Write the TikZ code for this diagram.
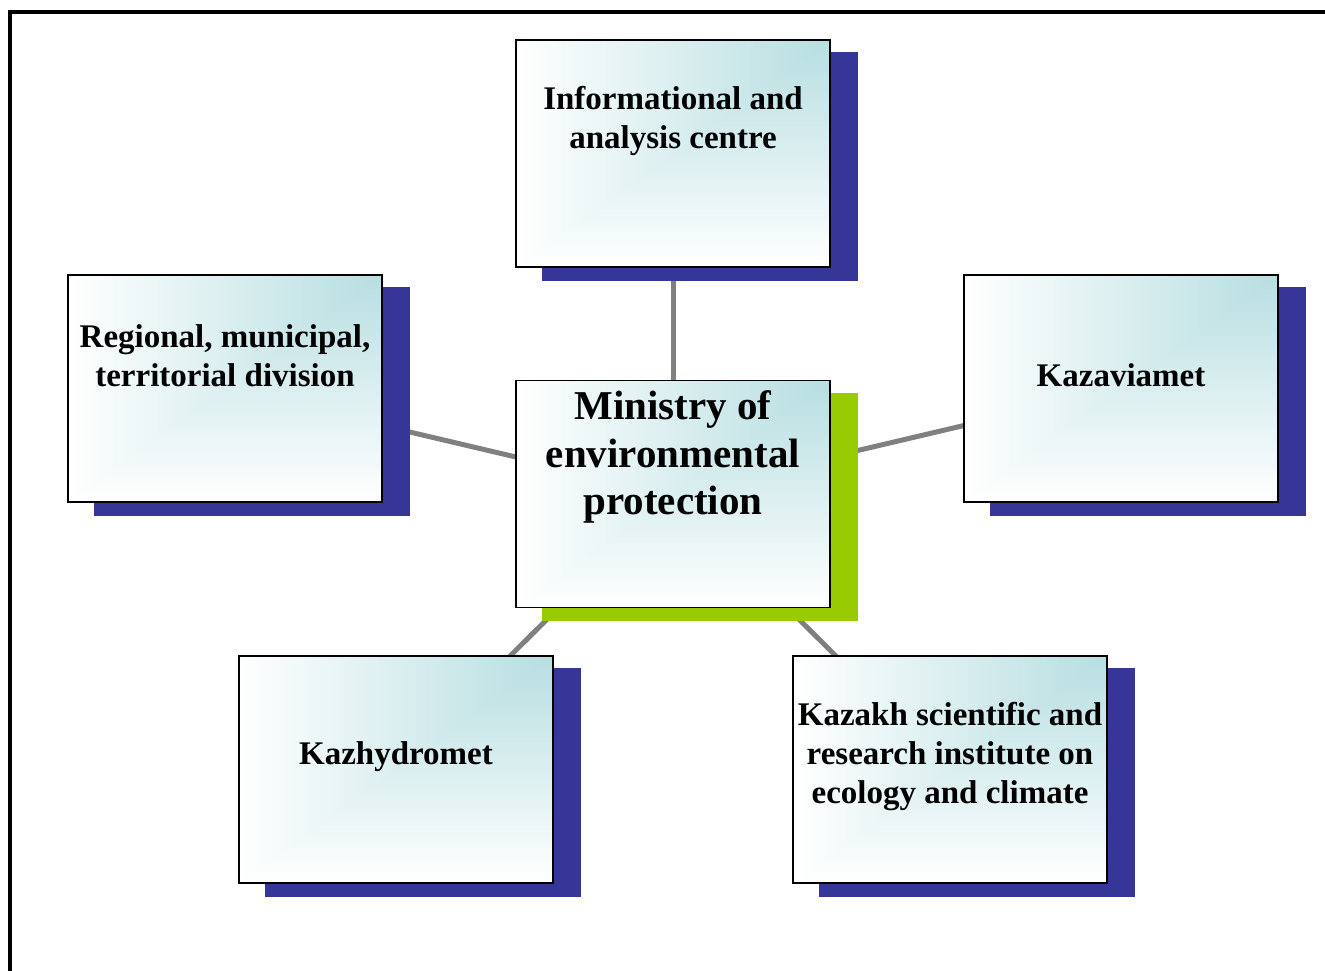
\documentclass[tikz,border=0pt]{standalone}
\usepackage{fontspec}
\setmainfont{Liberation Serif}
\pgfdeclarelayer{bg}
\pgfdeclarelayer{shadowlayer}
\pgfsetlayers{bg,shadowlayer,main}
\definecolor{shadowblue}{RGB}{54,54,153}
\definecolor{shadowgreen}{RGB}{153,204,0}
\definecolor{linkgray}{RGB}{128,128,128}
\pgfdeclarefunctionalshading{cornergrad}{\pgfpoint{0bp}{0bp}}{\pgfpoint{100bp}{100bp}}{}{
 25 sub exch 25 sub
 2 copy gt {exch} if pop
 50 div
 dup 0 lt {pop 0} if
 dup 1 gt {pop 1} if
 dup dup -0.282 mul 1 add exch -0.129 mul 1 add 3 -1 roll -0.118 mul 1 add
}
\tikzset{
  box/.style={draw=black, line width=1.6pt, shading=cornergrad, shading angle=0,
    minimum width=314pt, minimum height=227pt, inner sep=0pt},
  lbl/.style={align=center, inner sep=0pt, font=\bfseries\fontsize{33}{39}\selectfont},
  biglbl/.style={align=center, inner sep=0pt, font=\bfseries\fontsize{41}{47.5}\selectfont},
  link/.style={draw=linkgray, line width=5pt},
}
\newcommand{\boxshadow}[2]{%
  \fill[#2] ([xshift=27pt,yshift=-13pt]#1.south west) rectangle ([xshift=27pt,yshift=-13pt]#1.north east);}
\begin{document}
\begin{tikzpicture}[x=1pt,y=-1pt]
\useasboundingbox (0,0) rectangle (1325,970);
% frame
\draw[line width=4pt] (10,972) -- (10,12) -- (1327,12);
% boxes
\node[box] (top) at (673,153.5) {};
\node[box] (left) at (225,388.5) {};
\node[box] (ctr) at (673,494) {};
\node[box] (right) at (1121,388.5) {};
\node[box] (bl) at (396,769.5) {};
\node[box] (br) at (950,769.5) {};
% labels
\node[lbl] (toptext) at (673,121) {Informational and\\analysis centre};
\node[lbl] (lefttext) at (225,356) {Regional, municipal,\\territorial division};
\node[biglbl] (ctrtext) at (673,457) {Ministry of\\environmental\\protection};
\node[lbl] (righttext) at (1121,375) {Kazaviamet};
\node[lbl] (bltext) at (396,757) {Kazhydromet};
\node[lbl] (brtext) at (950,757) {Kazakh scientific and\\research institute on\\ecology and climate};
% shadows
\begin{pgfonlayer}{shadowlayer}
\boxshadow{top}{shadowblue}
\boxshadow{left}{shadowblue}
\boxshadow{right}{shadowblue}
\boxshadow{bl}{shadowblue}
\boxshadow{br}{shadowblue}
\boxshadow{ctr}{shadowgreen}
\end{pgfonlayer}
% connectors
\begin{pgfonlayer}{bg}
\draw[link] (ctr.center) -- (top.center);
\draw[link] (ctr.center) -- (left.center);
\draw[link] (ctr.center) -- (right.center);
\draw[link] (ctr.center) -- (bl.center);
\draw[link] (ctr.center) -- (br.center);
\end{pgfonlayer}
\end{tikzpicture}
\end{document}
